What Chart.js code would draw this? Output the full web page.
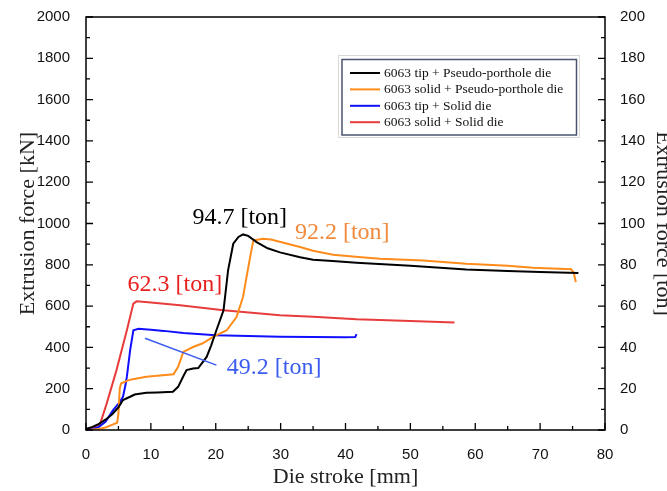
<!DOCTYPE html>
<html>
<head>
<meta charset="utf-8">
<script src="https://cdn.jsdelivr.net/npm/chart.js@4.4.1/dist/chart.umd.min.js"></script>
<style>
  html, body { margin: 0; padding: 0; background: #fff; }
  #wrap { width: 667px; height: 491px; position: relative; }
</style>
</head>
<body>
<div id="wrap"><canvas id="chart"></canvas></div>
<script>
// die stroke [mm] / extrusion force [kN]
const blackStroke = [0, 1, 2, 3, 4, 5, 5.7, 6.8, 7.5, 9.3, 11, 13.4, 14.2, 15, 15.5, 16.5, 17.3, 18.6, 19.3, 20.1, 21.2, 21.9, 22.7, 23.5, 24.2, 25, 26.3, 28, 29.9, 33, 35, 38, 41.7, 50, 58.6, 65, 70, 75.9];
const blackForce  = [5, 15, 30, 50, 75, 110, 145, 161, 172, 180, 182, 185, 209, 260, 290, 298, 300, 354, 410, 483, 580, 773, 902, 935, 947, 940, 910, 880, 860, 837, 825, 818, 810, 795, 777, 770, 765, 760];

const orangeStroke = [0, 2, 3, 4, 4.8, 5, 5.2, 5.4, 6.3, 7, 9.3, 11, 13.5, 14.2, 15, 16.5, 18, 19.6, 21.7, 23.2, 24.2, 24.8, 25.3, 25.8, 27.3, 28.5, 30, 33, 35, 38.1, 42, 45.3, 52, 58.6, 65, 68.9, 74.8, 75.2, 75.5];
const orangeForce  = [0, 5, 12, 25, 35, 80, 200, 225, 238, 245, 258, 263, 270, 306, 378, 402, 420, 451, 483, 547, 644, 750, 837, 918, 926, 922, 910, 886, 868, 849, 838, 829, 821, 805, 795, 786, 778, 760, 716];

const blueStroke = [0, 1, 2, 3, 4.2, 5.2, 5.7, 6.1, 6.3, 6.8, 7.3, 8.1, 10, 12, 15, 20, 25, 29.9, 35, 40, 41.5, 41.7];
const blueForce  = [0, 5, 15, 40, 97, 135, 161, 220, 258, 386, 483, 490, 485, 480, 470, 459, 455, 451, 450, 449, 450, 464];

const redStroke = [0, 1, 2, 2.2, 3.2, 4.7, 6.3, 7.3, 7.8, 10, 14.5, 21.2, 29.9, 35, 41.7, 50, 56.8];
const redForce  = [5, 12, 25, 32, 129, 290, 483, 612, 623, 618, 604, 580, 556, 548, 536, 528, 520];

const seriesLabels = ['6063 tip + Pseudo-porthole die', '6063 solid + Pseudo-porthole die', '6063 tip + Solid die', '6063 solid + Solid die'];
const seriesColors = ['#000000', '#ff8c1a', '#1010ff', '#e83c3c'];

// peak labels, placed in data units (mm, kN)
const peakNotes = [
  { text: '94.7 [ton]', x: 23.7, y: 1029, color: '#000000' },
  { text: '92.2 [ton]', x: 39.5, y: 954, color: '#f08a3c' },
  { text: '62.3 [ton]', x: 13.7, y: 705, color: '#e82020' },
  { text: '49.2 [ton]', x: 29.0, y: 300, color: '#3a5cf0' }
];
const blueLeader = [{ x: 9.1, y: 444 }, { x: 20.1, y: 314 }];

function toPoints(xs, ys) {
  return xs.map((x, i) => ({ x, y: ys[i] }));
}

const seriesData = [
  toPoints(blackStroke, blackForce),
  toPoints(orangeStroke, orangeForce),
  toPoints(blueStroke, blueForce),
  toPoints(redStroke, redForce)
];

const tickFont = { family: "'Liberation Sans', Arial, sans-serif", size: 15 };
const serif = "'Liberation Serif', 'Times New Roman', serif";
const plainTick = (v) => String(v);

const framePlugin = {
  id: 'frame',
  afterDraw(chart) {
    const { ctx, chartArea: a, scales } = chart;
    const midX = (a.left + a.right) / 2;
    const midY = (a.top + a.bottom) / 2;
    ctx.save();
    ctx.strokeStyle = '#000';
    ctx.lineWidth = 1.5;
    ctx.strokeRect(a.left, a.top, a.right - a.left, a.bottom - a.top);

    ctx.lineWidth = 1.3;
    ctx.beginPath();
    for (let v = 0; v <= 80; v += 5) {
      const px = scales.x.getPixelForValue(v);
      const len = v % 10 === 0 ? 7 : 4;
      ctx.moveTo(px, a.bottom);
      ctx.lineTo(px, a.bottom - len);
    }
    for (let v = 0; v <= 2000; v += 100) {
      const py = scales.y.getPixelForValue(v);
      const len = v % 200 === 0 ? 7 : 4;
      ctx.moveTo(a.left, py);
      ctx.lineTo(a.left + len, py);
    }
    for (let v = 0; v <= 200; v += 10) {
      const py = scales.y2.getPixelForValue(v);
      const len = v % 20 === 0 ? 7 : 4;
      ctx.moveTo(a.right, py);
      ctx.lineTo(a.right - len, py);
    }
    ctx.stroke();

    // axis titles
    ctx.fillStyle = '#222';
    ctx.font = '22px ' + serif;
    ctx.textAlign = 'center';
    ctx.textBaseline = 'middle';
    ctx.fillText('Die stroke [mm]', midX, 477);
    ctx.save();
    ctx.translate(28, midY);
    ctx.rotate(-Math.PI / 2);
    ctx.fillText('Extrusion force [kN]', 0, 0);
    ctx.restore();
    ctx.save();
    ctx.translate(663, midY);
    ctx.rotate(Math.PI / 2);
    ctx.fillText('Extrusion force [ton]', 0, 0);
    ctx.restore();

    // peak annotations
    ctx.font = '24px ' + serif;
    peakNotes.forEach((n) => {
      ctx.fillStyle = n.color;
      ctx.fillText(n.text, scales.x.getPixelForValue(n.x), scales.y.getPixelForValue(n.y));
    });
    ctx.strokeStyle = '#3a5cf0';
    ctx.lineWidth = 1.5;
    ctx.beginPath();
    ctx.moveTo(scales.x.getPixelForValue(blueLeader[0].x), scales.y.getPixelForValue(blueLeader[0].y));
    ctx.lineTo(scales.x.getPixelForValue(blueLeader[1].x), scales.y.getPixelForValue(blueLeader[1].y));
    ctx.stroke();

    // legend box
    ctx.fillStyle = '#fff';
    ctx.fillRect(338, 55, 241, 82);
    ctx.strokeStyle = '#d8d8d8';
    ctx.lineWidth = 1;
    ctx.strokeRect(338.5, 55.5, 241, 82);
    ctx.strokeStyle = '#4a5470';
    ctx.lineWidth = 1.5;
    ctx.strokeRect(342, 59.5, 234.5, 75.5);
    ctx.font = '13.5px ' + serif;
    ctx.textAlign = 'left';
    seriesLabels.forEach((label, i) => {
      const y = 73 + i * 16.4;
      ctx.strokeStyle = seriesColors[i];
      ctx.lineWidth = 2;
      ctx.beginPath();
      ctx.moveTo(350, y);
      ctx.lineTo(380, y);
      ctx.stroke();
      ctx.fillStyle = '#111';
      ctx.fillText(label, 384, y + 0.5);
    });
    ctx.restore();
  }
};

new Chart(document.getElementById('chart'), {
  type: 'scatter',
  data: {
    datasets: seriesData.map((pts, i) => ({
      label: seriesLabels[i],
      data: pts,
      showLine: true,
      borderColor: seriesColors[i],
      backgroundColor: seriesColors[i],
      borderWidth: 2,
      pointRadius: 0,
      tension: 0,
      yAxisID: 'y'
    }))
  },
  options: {
    responsive: true,
    maintainAspectRatio: false,
    animation: false,
    layout: { padding: { top: 16, left: 0, right: 0, bottom: 0 } },
    plugins: { legend: { display: false }, tooltip: { enabled: false } },
    scales: {
      x: {
        type: 'linear',
        min: 0,
        max: 80,
        grid: { display: false },
        border: { display: false },
        ticks: { stepSize: 10, color: '#111', font: tickFont, padding: 8, maxRotation: 0, callback: plainTick },
        afterFit(scale) { scale.height = 61; }
      },
      y: {
        type: 'linear',
        position: 'left',
        min: 0,
        max: 2000,
        grid: { display: false },
        border: { display: false },
        ticks: { stepSize: 200, color: '#111', font: tickFont, padding: 8, callback: plainTick },
        afterFit(scale) { scale.width = 86; }
      },
      y2: {
        type: 'linear',
        position: 'right',
        min: 0,
        max: 200,
        grid: { display: false },
        border: { display: false },
        ticks: { stepSize: 20, color: '#111', font: tickFont, padding: 7, callback: plainTick },
        afterFit(scale) { scale.width = 62; }
      }
    }
  },
  plugins: [framePlugin]
});
</script>
</body>
</html>
